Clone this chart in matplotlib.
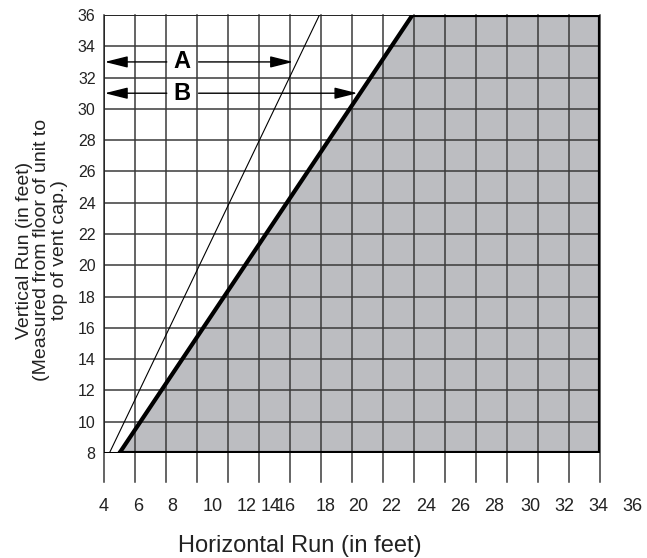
import matplotlib
matplotlib.use("Agg")
import matplotlib.pyplot as plt
import numpy as np

plt.rcParams['font.family'] = ['Liberation Sans', 'DejaVu Sans']

# ---- data ----
x_grid = list(range(4, 37, 2))          # vertical grid lines (feet)
y_grid = list(range(8, 37, 2))          # horizontal grid lines (feet)
x_tick_labels = ['4', '6', '8', '10', '12', '14', '16', '18', '20', '22',
                 '24', '26', '28', '30', '32', '34', '36']
# label positions as printed on the original (slightly off the grid)
x_label_pos = [4, 6.2, 8.4, 11.0, 13.2, 14.75, 15.75, 18.3, 20.4, 22.5,
               24.8, 27.0, 29.2, 31.5, 33.7, 35.9, 38.1]
y_tick_labels = [str(v) for v in y_grid]

# boundary of acceptable region (thick line) and limit line (thin)
thick_x = [5.0, 23.9]
thick_y = [8, 36]
region_x = [5.0, 23.9, 36, 36]
region_y = [8, 36, 36, 8]
thin_x = [4.35, 17.9]
thin_y = [8, 36]

# arrows A and B
arrow_labels = ['A', 'B']
arrow_y = [33, 31]
arrow_label_x = [9.0, 9.0]
arrow_end_x = [16.2, 20.35]

fig = plt.figure(figsize=(6.47, 5.58), dpi=100)
ax = fig.add_axes([104/647, 1-453/558, 496/647, 438/558])
ax.set_xlim(4, 36)
ax.set_ylim(8, 36)

ax.fill(region_x, region_y, color='#bcbdc1', zorder=1, lw=0)

grid_c = '#3a3a3a'
for xv in x_grid:
    ax.plot([xv, xv], [6.15, 36], color=grid_c, lw=1.1, zorder=2, clip_on=False)
for yv in y_grid:
    ax.plot([4, 36], [yv, yv], color=grid_c, lw=1.1, zorder=2)

ax.plot(region_x[1:] + [region_x[0]], region_y[1:] + [region_y[0]],
        color='black', lw=3.0, zorder=4, solid_joinstyle='miter')
ax.plot([4, 36], [8, 8], color='black', lw=2.2, zorder=4)
ax.plot(thick_x, thick_y, color='black', lw=3.0, zorder=4, solid_capstyle='butt')
ax.plot(thin_x, thin_y, color='black', lw=0.8, zorder=4)

for lab, yv, lx, ex in zip(arrow_labels, arrow_y, arrow_label_x, arrow_end_x):
    ax.annotate('', xy=(4.05, yv), xytext=(lx - 0.95, yv),
                arrowprops=dict(arrowstyle='-|>,head_length=1.4,head_width=0.35',
                                color='black', lw=1.0, shrinkA=0, shrinkB=0), zorder=5)
    ax.annotate('', xy=(ex, yv), xytext=(lx + 1.1, yv),
                arrowprops=dict(arrowstyle='-|>,head_length=1.4,head_width=0.35',
                                color='black', lw=1.0, shrinkA=0, shrinkB=0), zorder=5)
    ax.text(lx, yv, lab, ha='center', va='center', fontsize=17,
            fontweight='bold', zorder=6)

for sp in ax.spines.values():
    sp.set_visible(False)
ax.plot([4, 4], [8, 36], color='#222222', lw=1.3, zorder=3)
ax.plot([4, 36], [36, 36], color='#222222', lw=1.3, zorder=3)

ax.set_xticks([])
ax.set_yticks(y_grid)
ax.set_yticklabels(y_tick_labels, fontsize=11.5, color='#222222')
ax.tick_params(axis='y', length=0, pad=6)

for lab, xp in zip(x_tick_labels, x_label_pos):
    ax.text(xp, 4.6, lab, ha='center', va='center', fontsize=13,
            color='#222222', clip_on=False)

fig.text(42/647, 1-250/558,
         'Vertical Run (in feet)\n(Measured from floor of unit to\ntop of vent cap.)',
         rotation=90, ha='center', va='center', multialignment='center',
         fontsize=14, linespacing=1.05, color='#222222')
fig.text(300/647, 1-546/558, 'Horizontal Run (in feet)', ha='center',
         va='center', fontsize=17, color='#222222')

fig.savefig('out.png', dpi=100)
